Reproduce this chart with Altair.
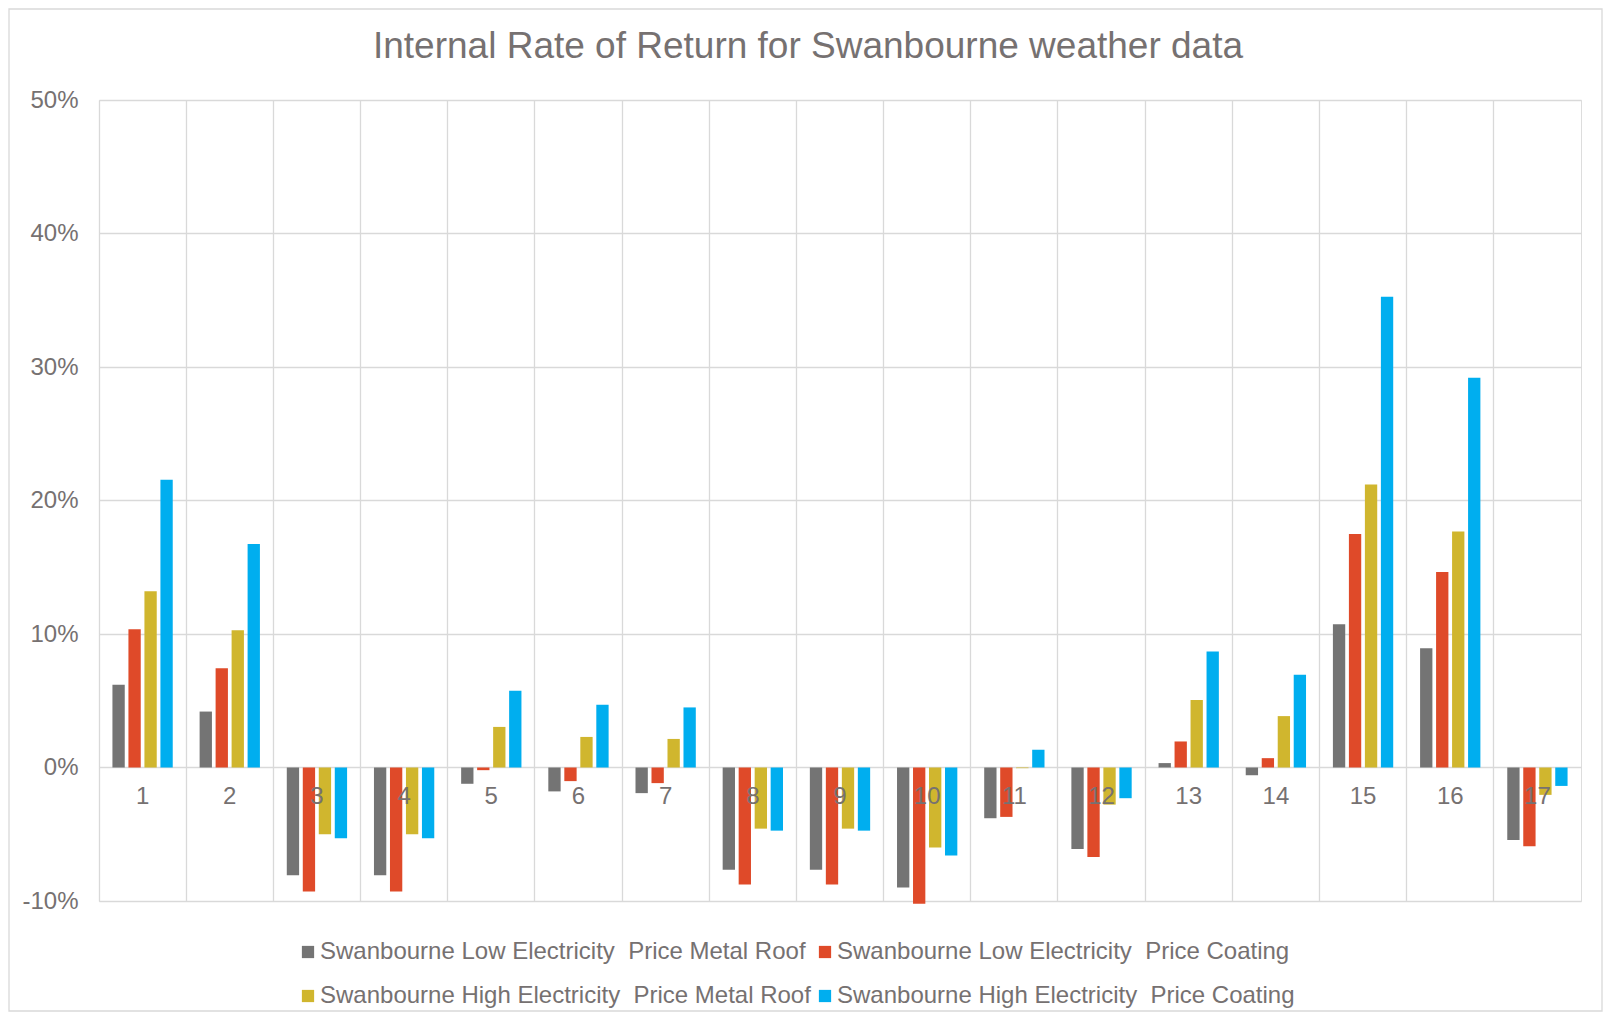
import altair as alt
import pandas as pd

categories = [str(i) for i in range(1, 18)]
series_names = [
    "Swanbourne Low Electricity\u00a0 Price Metal Roof",
    "Swanbourne Low Electricity\u00a0 Price Coating",
    "Swanbourne High Electricity\u00a0 Price Metal Roof",
    "Swanbourne High Electricity\u00a0 Price Coating",
]
series_colors = ["#747474", "#DF4A29", "#D0B62E", "#00AEEF"]
chart_title = "Internal Rate of Return for Swanbourne weather data"

low_metal = [6.19, 4.19, -8.07, -8.07, -1.22, -1.79, -1.92, -7.66, -7.66, -8.98, -3.8, -6.1, 0.33, -0.58, 10.73, 8.93, -5.44]
low_coating = [10.36, 7.44, -9.29, -9.29, -0.2, -1.02, -1.17, -8.76, -8.76, -10.2, -3.7, -6.7, 1.95, 0.7, 17.49, 14.65, -5.9]
high_metal = [13.2, 10.28, -5.0, -5.0, 3.04, 2.29, 2.14, -4.58, -4.58, -6.0, -0.05, -2.78, 5.05, 3.85, 21.19, 17.68, -2.05]
high_coating = [21.55, 16.75, -5.3, -5.3, 5.75, 4.7, 4.5, -4.73, -4.73, -6.6, 1.33, -2.3, 8.68, 6.95, 35.26, 29.2, -1.38]

y_ticks = [-0.1, 0.0, 0.1, 0.2, 0.3, 0.4, 0.5]

rows = []
for name, vals in zip(series_names, [low_metal, low_coating, high_metal, high_coating]):
    for c, v in zip(categories, vals):
        rows.append({"cat": c, "series": name, "value": v / 100.0})
df = pd.DataFrame(rows)
cat_df = pd.DataFrame({"cat": categories})

# legend fills column-major: order so rows read (low metal, low coating) / (high metal, high coating)
legend_order = [0, 2, 1, 3]
legend_domain = [series_names[i] for i in legend_order]
legend_range = [series_colors[i] for i in legend_order]

TEXT = "#767171"
GRID = "#D9D9D9"
FONT = "Liberation Sans"
W, H = 1482, 801

x_enc = alt.X(
    "cat:N", sort=categories, title=None,
    scale=alt.Scale(paddingInner=0, paddingOuter=0),
    axis=alt.Axis(labels=False, ticks=False, domain=False, grid=True,
                  bandPosition=0, gridColor=GRID, gridWidth=1.3),
)
y_scale = alt.Scale(domain=[-0.1, 0.5], nice=False)

bars = alt.Chart(df).mark_bar().encode(
    x=x_enc,
    xOffset=alt.XOffset("series:N", sort=series_names,
                        scale=alt.Scale(paddingInner=0.23, paddingOuter=0.84)),
    y=alt.Y("value:Q", scale=y_scale, title=None,
            axis=alt.Axis(values=y_ticks, format=".0%",
                          labelExpr="replace(datum.label, '\u2212', '-')",
                          labelFontSize=24,
                          labelColor=TEXT, labelFont=FONT, labelPadding=21,
                          ticks=False, domain=False, gridColor=GRID, gridWidth=1.3)),
    color=alt.Color("series:N",
                    scale=alt.Scale(domain=legend_domain, range=legend_range),
                    legend=alt.Legend(title=None, orient="none", legendX=197, legendY=840,
                                      columns=2, symbolType="square", symbolSize=150,
                                      symbolStrokeWidth=0, labelFontSize=24, labelColor=TEXT,
                                      labelFont=FONT, labelLimit=0, labelOffset=0,
                                      columnPadding=2, rowPadding=20, padding=0)),
)

labels = alt.Chart(cat_df).mark_text(
    fontSize=24, color=TEXT, font=FONT, baseline="middle", dy=29
).encode(
    x=alt.X("cat:N", sort=categories),
    y=alt.datum(0),
    text="cat:N",
)

title = alt.Chart(alt.Data(values=[{"t": chart_title}])).mark_text(
    fontSize=37, color=TEXT, font=FONT, align="center", baseline="alphabetic"
).encode(
    x=alt.value(W / 2 - 32), y=alt.value(-42), text="t:N",
)

border = alt.Chart(alt.Data(values=[{}])).mark_rect(
    filled=False, stroke=GRID, strokeWidth=1.3
).encode(
    x=alt.value(-90), x2=alt.value(W + 21),
    y=alt.value(-91), y2=alt.value(H + 110),
)

chart = alt.layer(bars, labels, title, border).properties(
    width=W, height=H,
    autosize=alt.AutoSizeParams(type="none"),
    padding={"left": 91, "top": 92, "right": 22, "bottom": 112},
).configure_view(
    stroke=GRID, strokeWidth=1.3
).configure(background="white")

chart.save("out.html", embed_options={"renderer": "svg", "actions": False})
